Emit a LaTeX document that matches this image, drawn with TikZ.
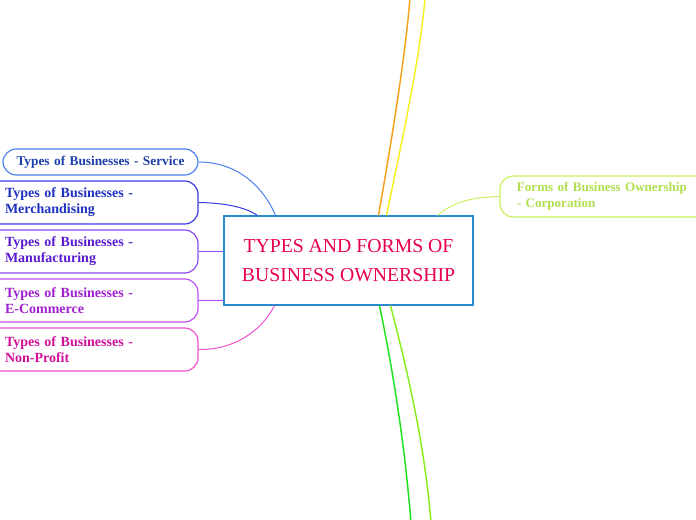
\documentclass[tikz,border=0pt]{standalone}
\usepackage{fontspec}
\setmainfont{Liberation Serif}
\usetikzlibrary{calc}
\definecolor{cbord}{HTML}{2A8AD0}
\definecolor{ctext}{HTML}{E8004A}
\definecolor{sbord}{HTML}{4A80F0}\definecolor{stext}{HTML}{1A3FA8}
\definecolor{mbord}{HTML}{3A3AE0}\definecolor{mtext}{HTML}{2030C0}
\definecolor{fbord}{HTML}{8A4AF0}\definecolor{ftext}{HTML}{5A1AD0}
\definecolor{ebord}{HTML}{C050F0}\definecolor{etext}{HTML}{A020D0}
\definecolor{nbord}{HTML}{F050D0}\definecolor{ntext}{HTML}{D0109A}
\definecolor{kbord}{HTML}{C8F060}\definecolor{ktext}{HTML}{B0E050}
\definecolor{orng}{HTML}{F7A11A}\definecolor{yllw}{HTML}{F5F020}
\definecolor{grn}{HTML}{1DE21D}\definecolor{lgrn}{HTML}{8AEE1A}
\tikzset{
  sub/.style={draw, line width=0.9pt, rounded corners=10pt, fill=white,
    minimum width=157.5pt, minimum height=32.25pt, inner xsep=12.75pt,
    text width=132pt, align=left, font=\bfseries\fontsize{10.5}{12}\selectfont},
  conn/.style={line width=0.75pt},
  trunk/.style={line width=1.1pt}
}
\begin{document}
\begin{tikzpicture}[x=0.75pt,y=-0.75pt]
\useasboundingbox (0,0) rectangle (696,520);
% central
\node[draw=cbord, line width=0.8pt, fill=white, minimum width=186.75pt, minimum height=66.75pt,
  align=center, text=ctext, font=\fontsize{14.8}{22}\selectfont] (c) at (348.5,260.5)
  {TYPES AND FORMS OF\\ BUSINESS OWNERSHIP};
% left nodes
\node[sub, draw=sbord, text=stext, minimum width=146.25pt, minimum height=19.5pt, inner xsep=2pt, text width=140pt, align=center, font=\bfseries\fontsize{10}{12}\selectfont] (s) at (100.5,162) {Types of Businesses - Service};
\node[sub, draw=mbord, text=mtext] (m) at (93,202.5) {Types of Businesses -\\ Merchandising};
\node[sub, draw=fbord, text=ftext] (f) at (93,251.5) {Types of Businesses -\\ Manufacturing};
\node[sub, draw=ebord, text=etext] (e) at (93,300.5) {Types of Businesses -\\ E-Commerce};
\node[sub, draw=nbord, text=ntext] (n) at (93,349.5) {Types of Businesses -\\ Non-Profit};
% right node
\node[sub, draw=kbord, text=ktext, minimum height=30.75pt, minimum width=165.5pt, text width=140pt, font=\bfseries\fontsize{9.8}{12}\selectfont] (k) at (610.3,196.5) {Forms of Business Ownership\\ - Corporation};
% free ends
\coordinate (ot) at (410,-2);
\coordinate (yt) at (425,-2);
\coordinate (gb) at (411,522);
\coordinate (lb) at (431,522);
% connectors left
\draw[conn, sbord] (s.east) .. controls (240,162) and (265,190) .. ($(c.north west)+(52,0)$);
\draw[conn, mbord] (m.east) .. controls (225,203) and (245,207) .. ($(c.north west)+(34,0)$);
\draw[conn, fbord] (f.east) -- (c.west |- f.east);
\draw[conn, ebord] (e.east) .. controls (210,300.5) and (215,300) .. ($(c.south west)+(0,-5)$);
\draw[conn, nbord] (n.east) .. controls (240,350) and (265,325) .. ($(c.south west)+(51,0)$);
% right connector
\draw[conn, kbord] ($(c.north west)+(214,0)$) .. controls (455,200) and (478,197) .. (k.west);
% trunks
\draw[trunk, orng] ($(c.north west)+(155,0)$) .. controls (390,150) and (405,60) .. (ot);
\draw[trunk, yllw] ($(c.north west)+(163,0)$) .. controls (400,150) and (420,60) .. (yt);
\draw[trunk, grn] ($(c.south west)+(156,0)$) .. controls (395,380) and (405,450) .. (gb);
\draw[trunk, lgrn] ($(c.south west)+(167,0)$) .. controls (410,380) and (425,450) .. (lb);
\end{tikzpicture}
\end{document}
